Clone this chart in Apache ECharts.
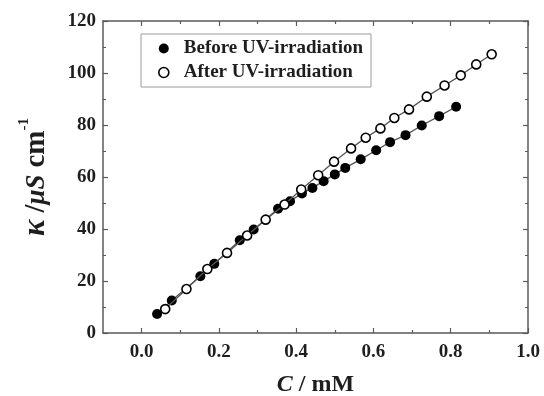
<!DOCTYPE html>
<html>
<head>
<meta charset="utf-8">
<script src="https://cdn.jsdelivr.net/npm/echarts@6/dist/echarts.min.js"></script>
<style>
  html, body { margin: 0; padding: 0; background: #fff; }
  #chart { width: 544px; height: 396px; }
</style>
</head>
<body>
<div id="chart"></div>
<script>
// Conductivity vs. surfactant concentration, before and after UV irradiation
const beforeC = [0.040, 0.078, 0.152, 0.188, 0.254, 0.290, 0.353, 0.384, 0.415, 0.442,
                 0.471, 0.500, 0.527, 0.567, 0.607, 0.643, 0.683, 0.725, 0.770, 0.814];
const beforeK = [7.3, 12.5, 21.8, 26.6, 35.7, 39.8, 47.8, 50.7, 53.7, 55.8,
                 58.4, 61.0, 63.5, 66.8, 70.3, 73.4, 76.1, 79.8, 83.4, 87.0];
const afterC = [0.061, 0.116, 0.170, 0.221, 0.273, 0.321, 0.370, 0.413, 0.457, 0.498,
                0.542, 0.580, 0.618, 0.654, 0.692, 0.738, 0.784, 0.826, 0.866, 0.906];
const afterK = [9.2, 16.9, 24.6, 30.8, 37.5, 43.6, 49.4, 55.2, 60.7, 65.9,
                71.0, 75.1, 78.7, 82.7, 86.0, 90.9, 95.2, 99.1, 103.3, 107.2];
const seriesNames = ['Before UV-irradiation', 'After UV-irradiation'];

// x-axis tick positions (axis runs from -0.1 to 1.0)
const xMajor = [0.0, 0.2, 0.4, 0.6, 0.8, 1.0];
const xMinor = [0.1, 0.3, 0.5, 0.7, 0.9];

const serif = '"Liberation Serif", "Times New Roman", serif';
const ink = '#1e1e1e';
const frame = '#5a5a5a';

const zip = (xs, ys) => xs.map((x, i) => [x, ys[i]]);

const chart = echarts.init(document.getElementById('chart'));

const lineStyleFrame = { color: frame, width: 1.5 };

// builds one x axis layer: either the framed axis with major ticks, or an
// overlay that only carries the shorter minor ticks
function xLayer(position, values, len, withLine, withLabels) {
  return {
    type: 'value', min: -0.1, max: 1.0, position: position,
    axisLine: { show: withLine, onZero: false, lineStyle: lineStyleFrame },
    axisTick: { show: true, inside: true, length: len, customValues: values,
                lineStyle: { color: frame, width: 1.2 } },
    axisLabel: withLabels ? {
      show: true, customValues: xMajor,
      fontFamily: serif, fontWeight: 'bold', fontSize: 19, color: ink, margin: 10,
      formatter: v => v.toFixed(1)
    } : { show: false },
    splitLine: { show: false }
  };
}

function yLayer(position, withLabels) {
  return {
    type: 'value', min: 0, max: 120, interval: 20, position: position,
    axisLine: { show: true, onZero: false, lineStyle: lineStyleFrame },
    axisTick: { show: true, inside: true, length: 5, lineStyle: { color: frame, width: 1.2 } },
    minorTick: { show: true, splitNumber: 2, length: 3, lineStyle: { color: frame, width: 1 } },
    axisLabel: withLabels ? { fontFamily: serif, fontWeight: 'bold', fontSize: 19, color: ink, margin: 7 }
                          : { show: false },
    splitLine: { show: false }
  };
}

const xBottom = xLayer('bottom', xMajor, 5, true, true);
Object.assign(xBottom, {
  name: '{i|C} / mM',
  nameLocation: 'middle',
  nameGap: 40,
  nameTextStyle: {
    fontFamily: serif, fontWeight: 'bold', fontSize: 24, color: ink,
    rich: { i: { fontFamily: serif, fontWeight: 'bold', fontStyle: 'italic', fontSize: 24, color: ink } }
  }
});

const yLeft = yLayer('left', true);
Object.assign(yLeft, {
  name: '{k|κ} {s|/}{m|μS} {c|cm}{sup|-1}',
  nameLocation: 'middle',
  nameGap: 52,
  nameRotate: 90,
  nameTextStyle: {
    fontFamily: serif, fontWeight: 'bold', fontSize: 28, color: ink,
    rich: {
      k: { fontFamily: serif, fontStyle: 'italic', fontSize: 31, color: ink, lineHeight: 34, verticalAlign: 'bottom' },
      s: { fontFamily: serif, fontSize: 29, color: ink, lineHeight: 34, verticalAlign: 'bottom' },
      m: { fontFamily: serif, fontStyle: 'italic', fontSize: 27, color: ink, lineHeight: 34, verticalAlign: 'bottom' },
      c: { fontFamily: serif, fontWeight: 'bold', fontSize: 29, color: ink, lineHeight: 34, verticalAlign: 'bottom' },
      sup: { fontFamily: serif, fontWeight: 'bold', fontSize: 15, color: ink, lineHeight: 34, verticalAlign: 'top' }
    }
  }
});

chart.setOption({
  animation: false,
  backgroundColor: '#fff',
  grid: { left: 103, right: 16, top: 21, bottom: 63, outerBoundsMode: 'none', containLabel: false },
  legend: {
    orient: 'vertical',
    left: 141,
    top: 34,
    width: 228,
    padding: [5, 8, 5, 17],
    itemGap: 5,
    itemWidth: 10,
    itemHeight: 10,
    icon: 'circle',
    borderColor: '#9a9a9a',
    borderWidth: 1,
    textStyle: { fontFamily: serif, fontWeight: 'bold', fontSize: 19, color: ink, padding: [0, 0, 0, 10] },
    data: [
      { name: seriesNames[0], itemStyle: { color: '#000', borderColor: '#000', borderWidth: 0 } },
      { name: seriesNames[1], itemStyle: { color: '#fff', borderColor: '#000', borderWidth: 1.6 } }
    ]
  },
  xAxis: [
    xBottom,
    xLayer('bottom', xMinor, 3, false, false),
    xLayer('top', xMajor, 5, true, false),
    xLayer('top', xMinor, 3, false, false)
  ],
  yAxis: [
    yLeft,
    yLayer('right', false)
  ],
  series: [
    {
      name: seriesNames[0],
      type: 'line',
      xAxisIndex: 0, yAxisIndex: 0,
      data: zip(beforeC, beforeK),
      symbol: 'circle',
      symbolSize: 10,
      showAllSymbol: true,
      lineStyle: { color: '#555', width: 1.3 },
      itemStyle: { color: '#000', borderColor: '#000', borderWidth: 0 },
      z: 2
    },
    {
      name: seriesNames[1],
      type: 'line',
      xAxisIndex: 0, yAxisIndex: 0,
      data: zip(afterC, afterK),
      symbol: 'circle',
      symbolSize: 9,
      showAllSymbol: true,
      lineStyle: { color: '#555', width: 1.3 },
      itemStyle: { color: '#fff', borderColor: '#000', borderWidth: 1.6 },
      z: 3
    }
  ]
});
</script>
</body>
</html>
